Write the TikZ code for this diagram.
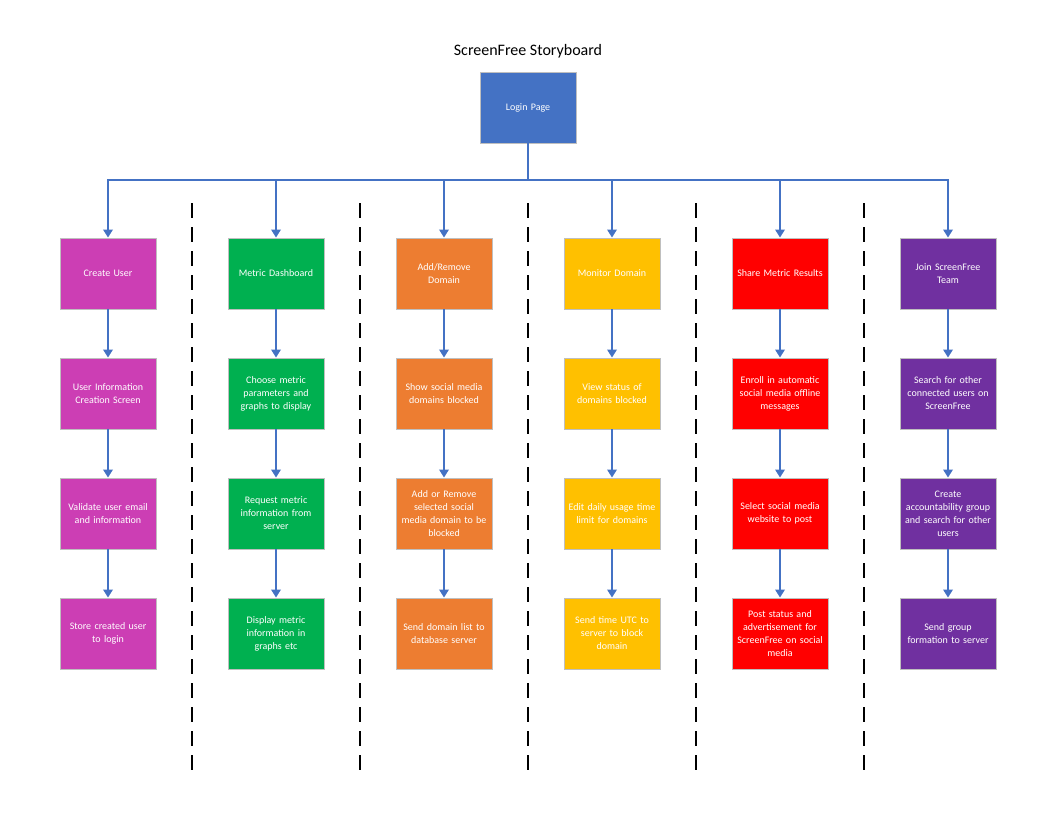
\documentclass[tikz,border=0pt]{standalone}
\usepackage{fontspec}
\setmainfont{Carlito}
\usetikzlibrary{arrows.meta}
\definecolor{cblue}{HTML}{4472C4}
\definecolor{cmag}{RGB}{204,62,180}
\definecolor{cgreen}{HTML}{00B050}
\definecolor{corange}{HTML}{ED7D31}
\definecolor{cyellow}{HTML}{FFC000}
\definecolor{cred}{HTML}{FF0000}
\definecolor{cpurple}{HTML}{7030A0}
\definecolor{cedge}{HTML}{BFBFBF}
\tikzset{
  card/.style={draw=cedge, line width=0.9pt, minimum width=96pt, minimum height=71pt,
    inner sep=0pt, text width=95pt, align=center, text=white,
    font=\fontsize{10}{13}\selectfont},
  flow/.style={draw=cblue, line width=1.8pt, -{Triangle[width=9.5pt,length=8pt]}},
  divider/.style={draw=black, line width=2pt, dash pattern=on 15pt off 9pt},
}
\begin{document}
\begin{tikzpicture}[x=1pt,y=-1pt]
\useasboundingbox (0,0) rectangle (1056,816);
\node[font=\fontsize{16}{18}\selectfont] (title) at (528,51.5) {ScreenFree Storyboard};
\node[card, fill=cblue] (login) at (528,107.5) {Login Page};
\coordinate (hub) at (528,180);

% column 1
\node[card, fill=cmag] (a1) at (108,273.5) {Create User};
\node[card, fill=cmag] (a2) at (108,393.5) {User Information\\Creation Screen};
\node[card, fill=cmag] (a3) at (108,513.5) {Validate user email\\and information};
\node[card, fill=cmag] (a4) at (108,633.5) {Store created user\\to login};
% column 2
\node[card, fill=cgreen] (b1) at (276,273.5) {Metric Dashboard};
\node[card, fill=cgreen] (b2) at (276,393.5) {Choose metric\\parameters and\\graphs to display};
\node[card, fill=cgreen] (b3) at (276,513.5) {Request metric\\information from\\server};
\node[card, fill=cgreen] (b4) at (276,633.5) {Display metric\\information in\\graphs etc};
% column 3
\node[card, fill=corange] (c1) at (444,273.5) {Add/Remove\\Domain};
\node[card, fill=corange] (c2) at (444,393.5) {Show social media\\domains blocked};
\node[card, fill=corange] (c3) at (444,513.5) {Add or Remove\\selected social\\media domain to be\\blocked};
\node[card, fill=corange] (c4) at (444,633.5) {Send domain list to\\database server};
% column 4
\node[card, fill=cyellow] (d1) at (612,273.5) {Monitor Domain};
\node[card, fill=cyellow] (d2) at (612,393.5) {View status of\\domains blocked};
\node[card, fill=cyellow] (d3) at (612,513.5) {Edit daily usage time\\limit for domains};
\node[card, fill=cyellow] (d4) at (612,633.5) {Send time UTC to\\server to block\\domain};
% column 5
\node[card, fill=cred] (e1) at (780,273.5) {Share Metric Results};
\node[card, fill=cred] (e2) at (780,393.5) {Enroll in automatic\\social media offline\\messages};
\node[card, fill=cred] (e3) at (780,513.5) {Select social media\\website to post};
\node[card, fill=cred] (e4) at (780,633.5) {Post status and\\advertisement for\\ScreenFree on social\\media};
% column 6
\node[card, fill=cpurple] (f1) at (948,273.5) {Join ScreenFree\\Team};
\node[card, fill=cpurple] (f2) at (948,393.5) {Search for other\\connected users on\\ScreenFree};
\node[card, fill=cpurple] (f3) at (948,513.5) {Create\\accountability group\\and search for other\\users};
\node[card, fill=cpurple] (f4) at (948,633.5) {Send group\\formation to server};

% branches from the login page
\foreach \n in {a1,b1,c1,d1,e1,f1}
  \draw[flow] (login.south) -- (hub) -| (\n.north);

% steps within each column
\foreach \c in {a,b,c,d,e,f}{
  \draw[flow] (\c1.south) -- (\c2.north);
  \draw[flow] (\c2.south) -- (\c3.north);
  \draw[flow] (\c3.south) -- (\c4.north);
}

% dashed column separators
\foreach \x [count=\i] in {192,360,528,696,864}{
  \coordinate (s\i top) at (\x,203);
  \coordinate (s\i bot) at (\x,770);
  \draw[divider] (s\i top) -- (s\i bot);
}
\end{tikzpicture}
\end{document}
